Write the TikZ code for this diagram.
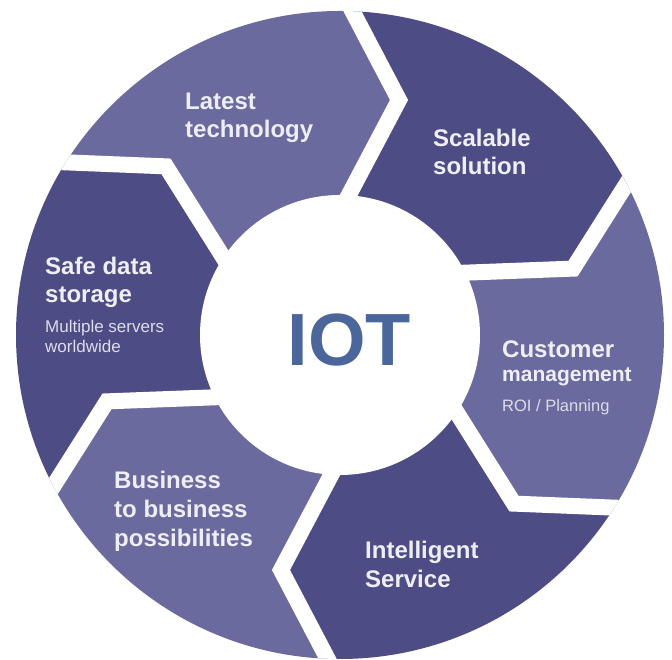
\documentclass[tikz,border=0pt]{standalone}
\usepackage{fontspec}
\setmainfont{Liberation Sans}
\definecolor{segdark}{HTML}{4E4C84}
\definecolor{seglight}{HTML}{6B6A9F}
\definecolor{iotblue}{HTML}{4A669B}
\definecolor{labtext}{HTML}{EEEEF5}
\definecolor{subtext}{HTML}{DCDCEA}
\begin{document}
\begin{tikzpicture}[x=1pt,y=1pt,
  gapline/.style={white, line width=16pt, line join=miter},
  headlabel/.style={font=\bfseries\fontsize{24}{28}\selectfont, text=labtext, anchor=base west, inner sep=0pt},
  midlabel/.style={font=\bfseries\fontsize{21}{25}\selectfont, text=labtext, anchor=base west, inner sep=0pt},
  sublabel/.style={font=\fontsize{16.5}{20}\selectfont, text=subtext, anchor=base west, inner sep=0pt},
  centerlabel/.style={font=\bfseries\fontsize{74}{80}\selectfont, text=iotblue, inner sep=0pt}]
\useasboundingbox (0,0) rectangle (672,660);
\coordinate (C) at (340,325);
\begin{scope}[shift={(340,325)}]
\foreach \k in {0,...,5}{
  \coordinate (O\k) at ({90.3-60*\k}:351);
  \coordinate (T\k) at ({75.9-60*\k}:242.3);
  \coordinate (I\k) at ({91-60*\k}:119.3);
  \coordinate (F\k) at ({60-60*\k}:600);
}
\end{scope}
\begin{scope}
  \clip (C) circle[radius=324];
  \foreach \k/\col in {0/segdark,1/seglight,2/segdark,3/seglight,4/segdark,5/seglight}{
    \pgfmathtruncatemacro\n{mod(\k+1,6)}
    \fill[\col] (O\k) -- (T\k) -- (I\k) -- (I\n) -- (T\n) -- (O\n) -- (F\k) -- cycle;
  }
  \foreach \k in {0,...,5}{
    \draw[gapline] (O\k) -- (T\k) -- (I\k);
  }
\end{scope}
\fill[white] (C) circle[radius=140];

\node[centerlabel] (iot) at (349.5,320) {IOT};

\node[headlabel] (lat1) at (185,550) {Latest};
\node[headlabel] (lat2) at (185,522) {technology};

\node[headlabel] (sca1) at (433,513) {Scalable};
\node[headlabel] (sca2) at (433,485) {solution};

\node[headlabel] (saf1) at (45,385) {Safe data};
\node[headlabel] (saf2) at (45,357) {storage};
\node[sublabel, font=\fontsize{17}{20}\selectfont] (saf3) at (45,327) {Multiple servers};
\node[sublabel, font=\fontsize{17}{20}\selectfont] (saf4) at (45,307) {worldwide};

\node[headlabel] (cus1) at (502,302) {Customer};
\node[midlabel] (cus2) at (502,278) {management};
\node[sublabel] (cus3) at (502,248) {ROI / Planning};

\node[headlabel] (bus1) at (114,171) {Business};
\node[headlabel] (bus2) at (114,142) {to business};
\node[headlabel] (bus3) at (114,113) {possibilities};

\node[headlabel] (int1) at (365,101) {Intelligent};
\node[headlabel] (int2) at (365,72) {Service};
\end{tikzpicture}
\end{document}
